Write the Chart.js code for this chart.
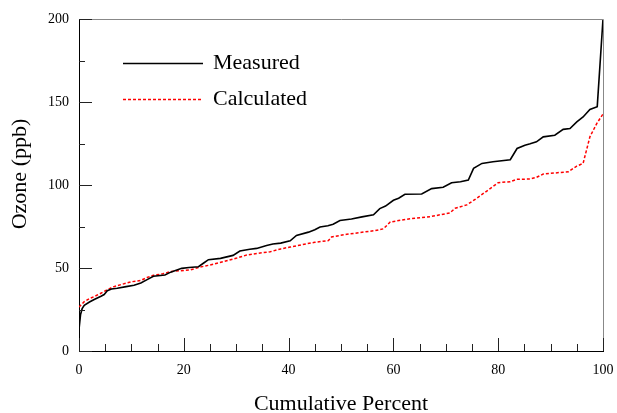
<!DOCTYPE html>
<html>
<head>
<meta charset="utf-8">
<script src="https://cdn.jsdelivr.net/npm/chart.js@4.4.1/dist/chart.umd.min.js"></script>
<style>
  html, body { margin: 0; padding: 0; background: #fff; }
  #wrap { width: 617px; height: 413px; }
</style>
</head>
<body>
<div id="wrap"><canvas id="ozone"></canvas></div>
<script>
// values
var measuredPct = [0, 0.3, 0.6, 1, 2, 2.9, 4.2, 4.8, 5.4, 6.2, 7.3, 9, 10.5, 11.8, 13, 14.2, 16.4, 17.5, 19.6, 21,
  22.8, 23.8, 24.7, 27, 29.4, 30.7, 32.6, 33.9, 35.8, 37, 38.5, 40.3, 41.5, 43.8, 45, 46, 47.5, 48.5, 49.8, 52,
  54, 56.2, 57.4, 58.5, 60, 61, 62.2, 65.4, 67.3, 69.5, 71.1, 72.8, 74.3, 75.3, 76.9, 79, 82.3, 83.6, 85.1, 86.1,
  87.3, 88.6, 90.8, 92.4, 93.7, 95, 96.2, 97.5, 98.9, 100];
var measuredOzone = [13, 22, 25.5, 27.5, 29.5, 31, 33, 34, 36.3, 37.3, 37.8, 38.8, 39.6, 41, 43, 45, 45.8, 47.5, 49.8, 50.3,
  50.8, 53, 55, 55.8, 57.6, 60.2, 61.3, 61.8, 63.6, 64.5, 65, 66.4, 69.6, 71.6, 73, 74.7, 75.5, 76.4, 78.6, 79.5,
  80.8, 82.1, 85.8, 87.3, 90.8, 92, 94.4, 94.6, 97.8, 98.6, 101.4, 102, 103, 110, 113, 114, 115.2, 122, 124, 124.8,
  126, 129, 130, 133.5, 134, 138, 141, 145.5, 147.2, 200];

var calculatedPct = [0, 1, 2, 2.9, 4, 5.4, 6.5, 8, 10, 11.8, 13, 14.2, 16, 17.4, 19, 21.2, 23, 25, 27.5, 30.1,
  32, 34, 36.5, 38.5, 40.3, 43, 45, 47.6, 48.2, 51.1, 54, 56.5, 58.1, 59.4, 63.2, 67, 70.8, 71.8, 74, 75.9,
  78.1, 80, 82.3, 83.5, 86.1, 87.3, 88.6, 93.4, 95, 96.2, 97.5, 98.8, 100];
var calculatedOzone = [26.5, 29.7, 31.6, 32.8, 34.5, 36.9, 38.6, 40, 41.7, 42.5, 44.3, 45.6, 46.5, 47.8, 48.3, 48.8, 50.5, 51.8, 53.8, 56,
  57.8, 58.8, 59.8, 61.5, 62.6, 64.3, 65.5, 66.5, 68.7, 70.3, 71.5, 72.5, 73.6, 77.7, 79.7, 80.9, 83.2, 86, 88, 92,
  97, 101.4, 102, 103.4, 103.6, 104.6, 106.6, 108, 111.4, 113, 129, 137, 142.8];

var xTicks = [0, 20, 40, 60, 80, 100];
var yTicks = [0, 50, 100, 150, 200];
var yTitle = 'Ozone (ppb)';

var serif = "'Liberation Serif', 'Times New Roman', serif";

function toPoints(xs, ys) {
  return xs.map(function(x, i) { return { x: x, y: ys[i] }; });
}

// box + inward ticks, like the original plot
var frame = {
  id: 'frame',
  afterDatasetsDraw: function(chart) {
    var ctx = chart.ctx, a = chart.chartArea;
    var xs = chart.scales.x, ys = chart.scales.y;
    ctx.save();
    ctx.lineWidth = 1;
    ctx.strokeStyle = '#888';
    ctx.beginPath();
    ctx.moveTo(a.left, a.top + 0.5);
    ctx.lineTo(a.right + 0.5, a.top + 0.5);
    ctx.lineTo(a.right + 0.5, a.bottom);
    ctx.stroke();

    ctx.strokeStyle = '#222';
    ctx.beginPath();
    for (var v = 0; v <= 100; v += 5) {
      var px = Math.round(xs.getPixelForValue(v)) + 0.5;
      var len = v % 20 === 0 ? 13 : 7;
      ctx.moveTo(px, a.bottom);
      ctx.lineTo(px, a.bottom - len);
    }
    for (var w = 0; w <= 200; w += 25) {
      var py = Math.round(ys.getPixelForValue(w)) + 0.5;
      var l = w % 50 === 0 ? 13 : 6;
      ctx.moveTo(a.left, py);
      ctx.lineTo(a.left + l, py);
    }
    ctx.stroke();

    // y title sits a little above the middle in the original
    ctx.translate(20, (a.top + a.bottom) / 2 - 11);
    ctx.rotate(-Math.PI / 2);
    ctx.fillStyle = '#000';
    ctx.font = '22px ' + serif;
    ctx.textAlign = 'center';
    ctx.textBaseline = 'middle';
    ctx.fillText(yTitle, 0, 0);
    ctx.restore();
  }
};

// legend sitting inside the plot
var innerLegend = {
  id: 'innerLegend',
  afterDraw: function(chart) {
    var ctx = chart.ctx, a = chart.chartArea;
    ctx.save();
    chart.data.datasets.forEach(function(ds, i) {
      var y = a.top + 44 + i * 36;
      ctx.strokeStyle = ds.borderColor;
      ctx.lineWidth = ds.borderWidth;
      ctx.setLineDash(ds.borderDash || []);
      ctx.beginPath();
      ctx.moveTo(a.left + 44, y + 0.5);
      ctx.lineTo(a.left + 124, y + 0.5);
      ctx.stroke();
      ctx.setLineDash([]);
      ctx.fillStyle = '#000';
      ctx.font = '22px ' + serif;
      ctx.textBaseline = 'middle';
      ctx.fillText(ds.label, a.left + 134, y);
    });
    ctx.restore();
  }
};

new Chart(document.getElementById('ozone'), {
  type: 'line',
  data: {
    datasets: [{
      label: 'Measured',
      data: toPoints(measuredPct, measuredOzone),
      borderColor: '#000',
      borderWidth: 1.6,
      pointRadius: 0,
      tension: 0
    }, {
      label: 'Calculated',
      data: toPoints(calculatedPct, calculatedOzone),
      borderColor: '#ff0000',
      borderWidth: 1.5,
      borderDash: [3, 2],
      pointRadius: 0,
      tension: 0
    }]
  },
  options: {
    responsive: true,
    maintainAspectRatio: false,
    animation: false,
    layout: { padding: { top: 19, right: 14, left: 0, bottom: 0 } },
    plugins: { legend: { display: false }, tooltip: { enabled: false } },
    scales: {
      x: {
        type: 'linear',
        min: 0,
        max: 100,
        afterBuildTicks: function(s) { s.ticks = xTicks.map(function(v) { return { value: v }; }); },
        afterFit: function(s) { s.height = 62; s.paddingLeft = 0; s.paddingRight = 0; },
        grid: { display: false, drawTicks: false },
        border: { display: true, color: '#000', width: 1 },
        ticks: { color: '#000', font: { family: serif, size: 14 }, padding: 11, maxRotation: 0 },
        title: {
          display: true,
          text: 'Cumulative Percent',
          color: '#000',
          font: { family: serif, size: 22, lineHeight: 0.8 },
          padding: { top: 0, bottom: 0 }
        }
      },
      y: {
        type: 'linear',
        min: 0,
        max: 200,
        afterBuildTicks: function(s) { s.ticks = yTicks.map(function(v) { return { value: v }; }); },
        afterFit: function(s) { s.width = 79; s.paddingTop = 0; s.paddingBottom = 0; },
        grid: { display: false, drawTicks: false },
        border: { display: true, color: '#000', width: 1 },
        ticks: { color: '#000', font: { family: serif, size: 14 }, padding: 10 },
        title: { display: false }
      }
    }
  },
  plugins: [frame, innerLegend]
});
</script>
</body>
</html>
